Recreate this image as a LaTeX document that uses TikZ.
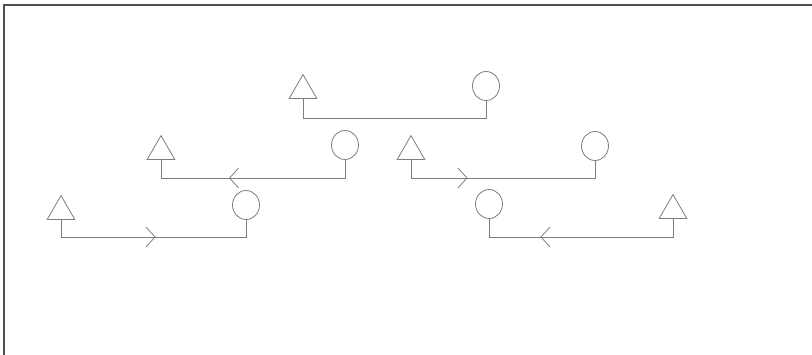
\documentclass[tikz,border=0pt]{standalone}
\usetikzlibrary{shapes.geometric,decorations.markings}
\definecolor{linegray}{RGB}{125,125,125}
\definecolor{framegray}{RGB}{80,80,80}
\tikzset{
  x=1pt, y=-1pt,
  conn/.style={draw=linegray, line width=0.8pt, line join=miter},
  tri/.style={regular polygon, regular polygon sides=3, draw=linegray, line width=0.8pt,
              minimum size=32pt, inner sep=0pt, anchor=south},
  circ/.style={ellipse, draw=linegray, line width=0.8pt, minimum width=27pt,
               minimum height=29pt, inner sep=0pt},
  chev/.style={postaction={decorate, decoration={markings,
      mark=at position #1 with {\draw[draw=linegray, line width=0.8pt] (-9pt,-10pt) -- (0,0) -- (-9pt,10pt);}}}}
}
\begin{document}
\begin{tikzpicture}
\useasboundingbox (0,0) rectangle (812,355);
% frame
\draw[framegray, line width=2pt] (4,355) -- (4,5) -- (812,5);

% row 1
\node[tri]  (t1) at (303,99) {};
\node[circ] (c1) at (486,86) {};
\coordinate (r1) at (0,118);
\draw[conn] (t1.south) -- (t1.south |- r1) -- (c1.south |- r1) -- (c1.south);

% row 2 left
\node[tri]  (t2) at (161,160) {};
\node[circ] (c2) at (345,145) {};
\coordinate (r2) at (0,178);
\draw[conn, chev=133.5pt] (c2.south) -- (c2.south |- r2) -- (t2.south |- r2) -- (t2.south);

% row 2 right
\node[tri]  (t3) at (411,160) {};
\node[circ] (c3) at (595,146) {};
\draw[conn, chev=74pt] (t3.south) -- (t3.south |- r2) -- (c3.south |- r2) -- (c3.south);

% row 3 left
\node[tri]  (t4) at (61,220) {};
\node[circ] (c4) at (246,205) {};
\coordinate (r3) at (0,237);
\draw[conn, chev=111pt] (t4.south) -- (t4.south |- r3) -- (c4.south |- r3) -- (c4.south);

% row 3 right
\node[circ] (c5) at (489,204) {};
\node[tri]  (t5) at (673,219) {};
\draw[conn, chev=150pt] (t5.south) -- (t5.south |- r3) -- (c5.south |- r3) -- (c5.south);
\end{tikzpicture}
\end{document}
